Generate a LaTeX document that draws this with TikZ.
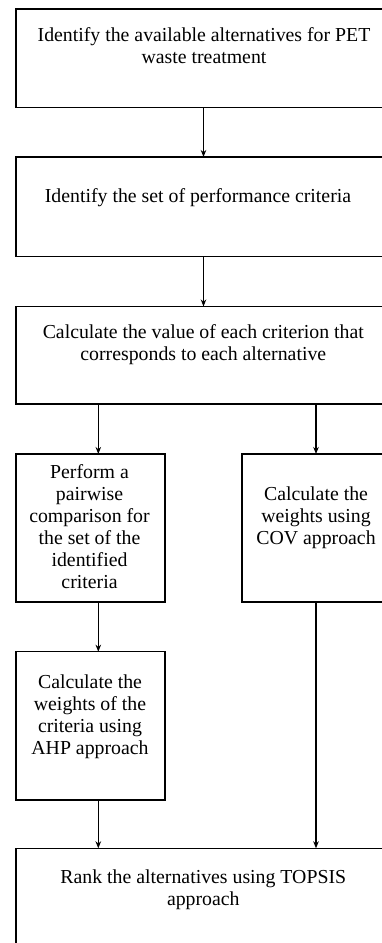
\documentclass[tikz,border=0pt]{standalone}
\usepackage{fontspec}
\setmainfont{Liberation Serif}
\usetikzlibrary{arrows.meta}
\newcommand\myfs{\fontsize{19.8}{22}\selectfont}
\begin{document}
\begin{tikzpicture}[x=1pt,y=-1pt,
  box/.style={draw=black, line width=1.3pt, inner sep=0pt, outer sep=0pt, anchor=north west},
  arr/.style={draw=black, line width=1.1pt, -{Stealth[length=7pt,width=5.5pt,inset=2.2pt]}},
  ln/.style={font=\myfs, inner sep=0pt, anchor=base}]
\useasboundingbox (0,0) rectangle (382,943);
\clip (0,0) rectangle (382,943);
\fill[white] (0,0) rectangle (382,943);
% boxes
\node[box, minimum width=375pt, minimum height=98.5pt] (b1) at (16,9) {};
\node[box, minimum width=375pt, minimum height=99.5pt] (b2) at (16,157) {};
\node[box, minimum width=375pt, minimum height=97.5pt] (b3) at (16,306.5) {};
\node[box, minimum width=149pt, minimum height=148pt] (b4) at (16,454) {};
\node[box, minimum width=148pt, minimum height=148pt] (b5) at (242,454) {};
\node[box, minimum width=149pt, minimum height=148.3pt] (b6) at (16,651.7) {};
\node[box, minimum width=375pt, minimum height=120pt] (b7) at (16,848.3) {};
% texts
\node[ln] (t1a) at (204,41.5) {Identify the available alternatives for PET};
\node[ln] (t1b) at (204,63.5) {waste treatment};
\node[ln] (t2a) at (198,202.7) {Identify the set of performance criteria};
\node[ln] (t3a) at (203.3,338.5) {Calculate the value of each criterion that};
\node[ln] (t3b) at (203.3,360.5) {corresponds to each alternative};
\node[ln] (t4a) at (89.5,478.3) {Perform a};
\node[ln] (t4b) at (89.5,500.3) {pairwise};
\node[ln] (t4c) at (89.5,522.3) {comparison for};
\node[ln] (t4d) at (89.5,544.3) {the set of the};
\node[ln] (t4e) at (89.5,566.3) {identified};
\node[ln] (t4f) at (89.5,588.3) {criteria};
\node[ln] (t5a) at (316,500.7) {Calculate the};
\node[ln] (t5b) at (316,522.7) {weights using};
\node[ln] (t5c) at (316,544.7) {COV approach};
\node[ln] (t6a) at (90,688.3) {Calculate the};
\node[ln] (t6b) at (90,710.3) {weights of the};
\node[ln] (t6c) at (90,732.3) {criteria using};
\node[ln] (t6d) at (90,754.3) {AHP approach};
\node[ln] (t7a) at (203.3,883.3) {Rank the alternatives using TOPSIS};
\node[ln] (t7b) at (203.3,905.3) {approach};
% connectors
\coordinate (xl) at (98.3,0);
\draw[arr] (b1.south) -- (b2.north);
\draw[arr] (b2.south) -- (b3.north);
\draw[arr] (b3.south -| xl) -- (b4.north -| xl);
\draw[arr] (b3.south -| b5.north) -- (b5.north);
\draw[arr] (b4.south -| xl) -- (b6.north -| xl);
\draw[arr] (b6.south -| xl) -- (b7.north -| xl);
\draw[arr] (b5.south) -- (b7.north -| b5.south);
\end{tikzpicture}
\end{document}
